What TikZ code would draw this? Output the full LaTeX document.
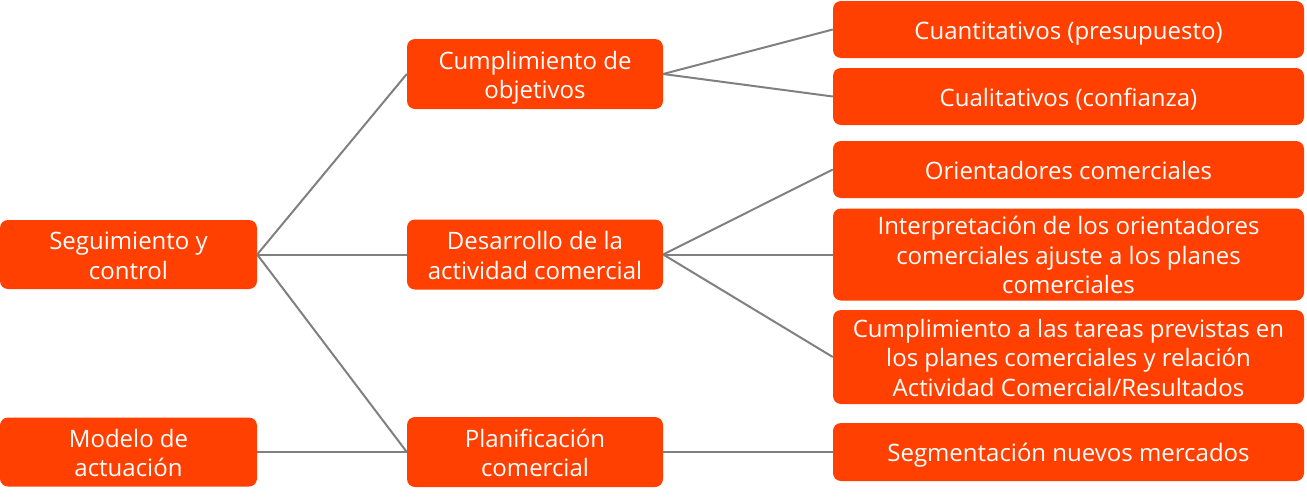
\documentclass[tikz,border=0pt]{standalone}
\usepackage{fontspec}
\setmainfont{Open Sans}
\definecolor{boxorange}{RGB}{255,64,0}
\definecolor{linegray}{RGB}{128,128,128}
\newcommand\bxt[1]{\raisebox{-4pt}[\height][\depth]{\begin{tabular}{@{}c@{}}#1\end{tabular}}}
\tikzset{
  box/.style={fill=boxorange, draw=none, rounded corners=8pt, text=white,
    inner sep=0pt, font=\fontsize{24}{29.5}\selectfont},
  conn/.style={draw=linegray, line width=2pt}
}
\begin{document}
\begin{tikzpicture}[x=1pt,y=-1pt]
\useasboundingbox (0,0) rectangle (1307,498);
\node[box, minimum width=257pt, minimum height=69pt] (seg) at (128.5,254.5) {\bxt{Seguimiento y\\control}};
\node[box, minimum width=257pt, minimum height=69pt] (mod) at (128.5,452) {\bxt{Modelo de\\actuación}};
\node[box, minimum width=256pt, minimum height=70pt] (cum) at (535,74) {\bxt{Cumplimiento de\\objetivos}};
\node[box, minimum width=256pt, minimum height=70pt] (des) at (535,254.5) {\bxt{Desarrollo de la\\actividad comercial}};
\node[box, minimum width=256pt, minimum height=70pt] (pla) at (535,452) {\bxt{Planificación\\comercial}};
\node[box, minimum width=471pt, minimum height=57pt] (cua) at (1068.5,29.5) {\bxt{Cuantitativos (presupuesto)}};
\node[box, minimum width=471pt, minimum height=57pt] (cual) at (1068.5,96.5) {\bxt{Cualitativos (confianza)}};
\node[box, minimum width=471pt, minimum height=57pt] (ori) at (1068.5,169.5) {\bxt{Orientadores comerciales}};
\node[box, minimum width=471pt, minimum height=92pt] (int) at (1068.5,254.5) {\bxt{Interpretación de los orientadores\\comerciales ajuste a los planes\\comerciales}};
\node[box, minimum width=471pt, minimum height=94pt] (tar) at (1068.5,357) {\bxt{Cumplimiento a las tareas previstas en\\los planes comerciales y relación\\Actividad Comercial/Resultados}};
\node[box, minimum width=471pt, minimum height=58pt] (sgm) at (1068.5,452) {\bxt{Segmentación nuevos mercados}};
\draw[conn] (seg.east) -- (cum.west);
\draw[conn] (seg.east) -- (des.west);
\draw[conn] (seg.east) -- (pla.west);
\draw[conn] (mod.east) -- (pla.west);
\draw[conn] (cum.east) -- (cua.west);
\draw[conn] (cum.east) -- (cual.west);
\draw[conn] (des.east) -- (ori.west);
\draw[conn] (des.east) -- (int.west);
\draw[conn] (des.east) -- (tar.west);
\draw[conn] (pla.east) -- (sgm.west);
\end{tikzpicture}
\end{document}
